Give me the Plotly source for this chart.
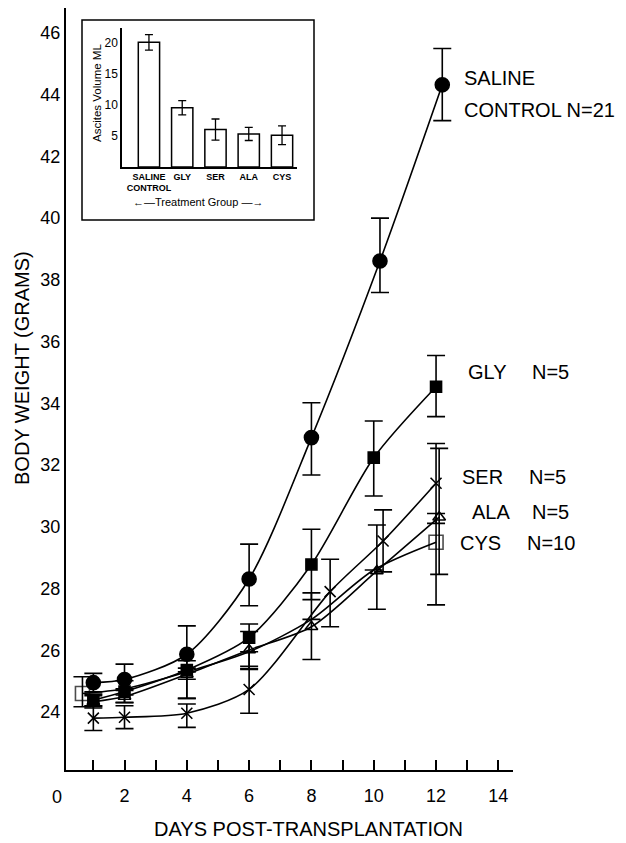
import plotly.graph_objects as go

# ---------------- data ----------------
saline_days = [1, 2, 4, 6, 8, 10.2, 12.2]
saline_vals = [24.95, 25.05, 25.87, 28.31, 32.89, 38.61, 44.32]
saline_up = [0.3, 0.5, 0.92, 1.13, 1.13, 1.39, 1.18]
saline_dn = [0.3, 0.5, 1.43, 0.87, 1.21, 1.02, 1.16]

gly_days = [1, 2, 4, 6, 8, 10, 12]
gly_vals = [24.38, 24.66, 25.36, 26.41, 28.78, 32.24, 34.54]
gly_up = [0.2, 0.35, 0.3, 0.44, 1.14, 1.19, 1.01]
gly_dn = [0.2, 0.35, 0.3, 1.03, 1.14, 1.24, 0.97]

ser_days = [1, 2, 4, 6, 8.6, 10.3, 12]
ser_vals = [23.8, 23.83, 23.96, 24.73, 27.9, 29.54, 31.41]
ser_up = [0.4, 0.37, 0.3, 0.75, 1.05, 1.01, 1.29]
ser_dn = [0.4, 0.37, 0.46, 0.77, 1.14, 1.0, 1.3]

ala_days = [1, 2, 4, 6, 8, 10.1, 12.1]
ala_vals = [24.33, 24.5, 25.22, 26.01, 26.76, 28.57, 30.31]
ala_up = [0.2, 0.2, 0.2, 0.6, 1.1, 1.49, 2.23]
ala_dn = [0.2, 0.2, 0.78, 0.6, 1.06, 1.24, 1.85]

cys_days = [0.65, 2, 4, 6, 8, 10, 12]
cys_vals = [24.6, 24.75, 25.3, 25.95, 27.0, 28.6, 29.5]
cys_up = [0.54, 0, 0, 0, 0, 0, 0.93]
cys_dn = [0.43, 0, 0, 0, 0, 0, 2.03]

x_ticks = list(range(1, 15))
y_ticks = list(range(24, 47, 2))

inset_cats = ["SALINE<br>CONTROL", "GLY", "SER", "ALA", "CYS"]
inset_vals = [20.0, 9.5, 6.0, 5.3, 5.1]
inset_err = [1.25, 1.15, 1.7, 1.05, 1.5]
inset_ticks = [5, 10, 15, 20]

# ---------------- layout helpers ----------------
W, H = 626, 843
L, R, T, B = 66, 513, 8, 770


def px(x):
    return (x - L) / (R - L)


def py(y):
    return (B - y) / (B - T)


FONT = "Liberation Sans, Arial, sans-serif"

fig = go.Figure()


def add_series(days, vals, up, dn, symbol, size, lw=1.6, sizes=None):
    fig.add_trace(go.Scatter(
        x=days, y=vals, mode="lines+markers",
        line=dict(color="black", width=lw, shape="spline", smoothing=0.8),
        marker=dict(symbol=symbol, size=sizes if sizes else size, color="black",
                    line=dict(color="black", width=1.6)),
        error_y=dict(type="data", symmetric=False, array=up, arrayminus=dn,
                     color="black", thickness=1.6, width=9),
        showlegend=False, cliponaxis=False,
    ))


cys_sizes = [14 if i in (0, len(cys_days) - 1) else 0 for i in range(len(cys_days))]
add_series(cys_days, cys_vals, cys_up, cys_dn, "square-open", 14, sizes=cys_sizes)
add_series(ala_days, ala_vals, ala_up, ala_dn, "triangle-up-open", 11)
add_series(ser_days, ser_vals, ser_up, ser_dn, "x-thin-open", 11)
add_series(gly_days, gly_vals, gly_up, gly_dn, "square", 11)
add_series(saline_days, saline_vals, saline_up, saline_dn, "circle", 14)

# inset bars
fig.add_trace(go.Bar(
    x=inset_cats, y=inset_vals, width=0.64,
    marker=dict(color="white", line=dict(color="black", width=1.5)),
    error_y=dict(type="data", array=inset_err, color="black", thickness=1.3, width=4),
    xaxis="x2", yaxis="y2", showlegend=False,
))

fig.update_layout(
    width=W, height=H,
    margin=dict(l=L, r=W - R, t=T, b=H - B),
    paper_bgcolor="white", plot_bgcolor="white",
    font=dict(family=FONT, color="black"),
    xaxis=dict(
        range=[0.122, 14.47], tickmode="array", tickvals=x_ticks,
        ticktext=[str(v) if v % 2 == 0 else "" for v in x_ticks],
        ticks="inside", ticklen=10, tickwidth=2, tickcolor="black",
        showline=True, linewidth=2, linecolor="black",
        showgrid=False, zeroline=False, tickfont=dict(size=18, color="black"),
        ticklabelstandoff=8,
    ),
    yaxis=dict(
        range=[22.12, 46.81], tickmode="array", tickvals=y_ticks,
        ticks="", showline=True, linewidth=2, linecolor="black",
        showgrid=False, zeroline=False, tickfont=dict(size=18, color="black"),
    ),
    xaxis2=dict(
        domain=[px(122), px(297)], anchor="y2", range=[-0.81, 4.45],
        showline=True, linewidth=1.5, linecolor="black", ticks="",
        showgrid=False, zeroline=False, tickangle=0,
        tickfont=dict(size=9, weight="bold", color="black"),
    ),
    yaxis2=dict(
        domain=[py(167), py(28)], anchor="x2", range=[0, 22.3],
        tickmode="array", tickvals=inset_ticks, ticks="",
        showline=True, linewidth=1.5, linecolor="black",
        showgrid=False, zeroline=False, tickfont=dict(size=12, color="black"),
    ),
    bargap=0.36,
)

# inset frame
fig.add_shape(type="rect", xref="paper", yref="paper",
              x0=px(82), x1=px(314), y0=py(220), y1=py(20),
              line=dict(color="black", width=1.5), fillcolor="white", layer="below")

ann = []


def text(x, y, s, size, xanchor="left", angle=0):
    ann.append(dict(x=px(x), y=py(y), xref="paper", yref="paper", text=s,
                    showarrow=False, xanchor=xanchor, yanchor="middle",
                    textangle=angle, font=dict(size=size, family=FONT, color="black")))


text(462, 78, "SALINE", 20)
text(462, 110, "CONTROL N=21", 20)
text(466, 372, "GLY", 20)
text(530, 372, "N=5", 20)
text(460, 477, "SER", 20)
text(527, 477, "N=5", 20)
text(470, 512, "ALA", 20)
text(530, 512, "N=5", 20)
text(458, 543, "CYS", 20)
text(525, 543, "N=10", 20)
text(57, 797, "0", 18, xanchor="center")
text(308, 829, "DAYS POST-TRANSPLANTATION", 20, xanchor="center")
text(22, 368, "BODY WEIGHT (GRAMS)", 20, xanchor="center", angle=-90)
text(97, 93, "Ascites Volume ML", 11.5, xanchor="center", angle=-90)
text(198, 202, "\u2190\u2014Treatment Group \u2014\u2192", 11, xanchor="center")
fig.update_layout(annotations=ann)

fig.write_html("out.html")
